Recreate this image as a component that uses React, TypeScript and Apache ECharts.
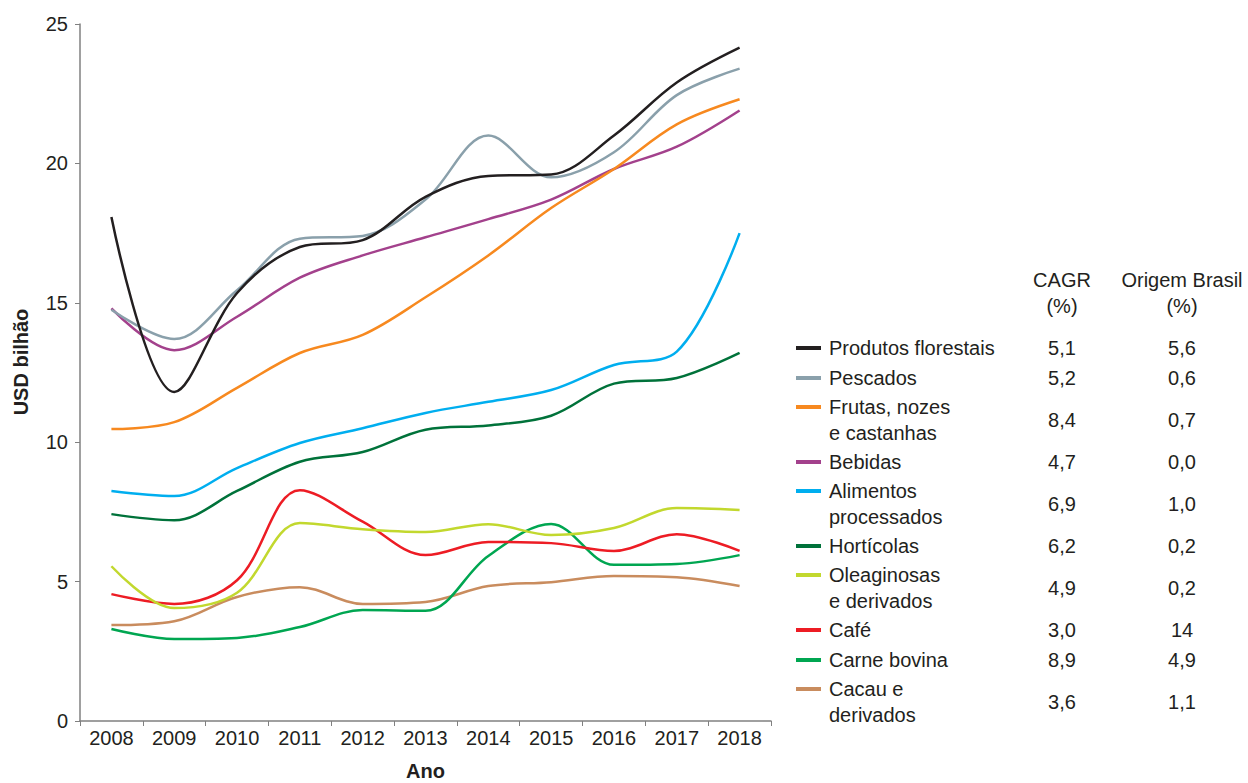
import React, { useEffect, useRef } from "react";
import * as echarts from "echarts";

const years = ["2008", "2009", "2010", "2011", "2012", "2013", "2014", "2015", "2016", "2017", "2018"];

const produtosFlorestais = [18.08, 11.8, 15.35, 17.0, 17.25, 18.8, 19.55, 19.6, 21.0, 22.9, 24.15];
const pescados = [14.75, 13.7, 15.45, 17.3, 17.4, 18.7, 21.0, 19.5, 20.4, 22.45, 23.4];
const frutas = [10.47, 10.72, 11.95, 13.2, 13.85, 15.2, 16.7, 18.4, 19.8, 21.4, 22.3];
const bebidas = [14.8, 13.3, 14.5, 15.9, 16.7, 17.35, 18.0, 18.7, 19.8, 20.6, 21.9];
const alimentos = [8.25, 8.07, 9.07, 9.97, 10.5, 11.05, 11.45, 11.87, 12.77, 13.25, 17.5];
const horticolas = [7.42, 7.2, 8.25, 9.3, 9.65, 10.45, 10.6, 10.95, 12.1, 12.3, 13.2];
const oleaginosas = [5.55, 4.05, 4.6, 7.1, 6.88, 6.78, 7.06, 6.67, 6.92, 7.64, 7.57];
const cafe = [4.55, 4.2, 5.05, 8.28, 7.15, 5.95, 6.42, 6.38, 6.1, 6.7, 6.1];
const carneBovina = [3.3, 2.94, 2.98, 3.37, 3.98, 3.95, 5.92, 7.07, 5.6, 5.63, 5.95];
const cacau = [3.44, 3.58, 4.45, 4.8, 4.2, 4.27, 4.84, 4.98, 5.2, 5.16, 4.84];

const seriesNames = [
  "Produtos florestais",
  "Pescados",
  "Frutas, nozes\ne castanhas",
  "Bebidas",
  "Alimentos\nprocessados",
  "Hortícolas",
  "Oleaginosas\ne derivados",
  "Café",
  "Carne bovina",
  "Cacau e\nderivados",
];
const seriesData = [produtosFlorestais, pescados, frutas, bebidas, alimentos, horticolas, oleaginosas, cafe, carneBovina, cacau];
const seriesColors = ["#231f20", "#8aa0ab", "#f7891f", "#a3418c", "#00aeef", "#00723a", "#c2d82e", "#ed1c24", "#00a651", "#c98c5e"];
const cagr = ["5,1", "5,2", "8,4", "4,7", "6,9", "6,2", "4,9", "3,0", "8,9", "3,6"];
const origemBrasil = ["5,6", "0,6", "0,7", "0,0", "1,0", "0,2", "0,2", "14", "4,9", "1,1"];
const yTicks = [0, 5, 10, 15, 20, 25];

const FONT = '"Liberation Sans", Arial, sans-serif';
const TEXT = "#231f20";

export default function App() {
  const ref = useRef<HTMLDivElement>(null);
  useEffect(() => {
    if (!ref.current) return;
    const chart = echarts.init(ref.current, undefined, { renderer: "svg" });

    const graphics: any[] = [];
    const lineX0 = 796, lineX1 = 821, textX = 829, cagrX = 1062, origX = 1182;
    const singleH = 30, doubleH = 54, lh = 26;
    let top = 348 - singleH / 2;
    seriesNames.forEach((name, i) => {
      const two = name.includes("\n");
      const h = two ? doubleH : singleH;
      const cy = top + h / 2;
      const ly = two ? cy - lh / 2 : cy;
      graphics.push({
        type: "line",
        shape: { x1: lineX0, y1: ly, x2: lineX1, y2: ly },
        style: { stroke: seriesColors[i], lineWidth: 4 },
      });
      graphics.push({
        type: "text",
        style: { text: name, x: textX, y: cy, fill: TEXT, font: `20px ${FONT}`, verticalAlign: "middle", align: "left", lineHeight: lh },
      });
      graphics.push({
        type: "text",
        style: { text: cagr[i], x: cagrX, y: cy, fill: TEXT, font: `20px ${FONT}`, verticalAlign: "middle", align: "center" },
      });
      graphics.push({
        type: "text",
        style: { text: origemBrasil[i], x: origX, y: cy, fill: TEXT, font: `20px ${FONT}`, verticalAlign: "middle", align: "center" },
      });
      top += h;
    });
    graphics.push({
      type: "text",
      style: { text: "CAGR\n(%)", x: cagrX, y: 293, fill: TEXT, font: `20px ${FONT}`, verticalAlign: "middle", align: "center", lineHeight: lh },
    });
    graphics.push({
      type: "text",
      style: { text: "Origem Brasil\n(%)", x: origX, y: 293, fill: TEXT, font: `20px ${FONT}`, verticalAlign: "middle", align: "center", lineHeight: lh },
    });
    graphics.push({
      type: "text",
      x: 21,
      y: 362,
      rotation: Math.PI / 2,
      style: { text: "USD bilhão", x: 0, y: 0, fill: TEXT, font: `bold 20px ${FONT}`, verticalAlign: "middle", align: "center" },
    });

    chart.setOption({
      animation: false,
      backgroundColor: "#ffffff",
      grid: { left: 80, right: 477, top: 24, bottom: 62, containLabel: false, outerBoundsMode: "none" },
      xAxis: {
        type: "category",
        data: years,
        boundaryGap: true,
        name: "Ano",
        nameLocation: "middle",
        nameGap: 40,
        nameTextStyle: { fontFamily: FONT, fontSize: 20, fontWeight: "bold", color: TEXT, lineHeight: 20 },
        axisLine: { lineStyle: { color: "#808080", width: 1.5 } },
        axisTick: { show: true, length: 5, inside: false, lineStyle: { color: "#808080" } },
        axisLabel: { fontFamily: FONT, fontSize: 20, color: TEXT, margin: 7 },
        splitLine: { show: false },
      },
      yAxis: {
        type: "value",
        min: yTicks[0],
        max: yTicks[yTicks.length - 1],
        interval: 5,
        axisLine: { show: true, lineStyle: { color: "#808080", width: 1.5 } },
        axisTick: { show: true, length: 5, lineStyle: { color: "#808080" } },
        axisLabel: { fontFamily: FONT, fontSize: 20, color: TEXT, margin: 12 },
        splitLine: { show: false },
      },
      series: seriesNames.map((name, i) => ({
        name: name.replace("\n", " "),
        type: "line",
        data: seriesData[i],
        smooth: 0.35,
        showSymbol: false,
        symbol: "none",
        lineStyle: { color: seriesColors[i], width: 2.5 },
        itemStyle: { color: seriesColors[i] },
        z: 10 - i,
      })),
      graphic: graphics,
    });
    return () => chart.dispose();
  }, []);
  return <div ref={ref} style={{ position: "fixed", left: 0, top: 0, width: 1248, height: 783 }} />;
}
